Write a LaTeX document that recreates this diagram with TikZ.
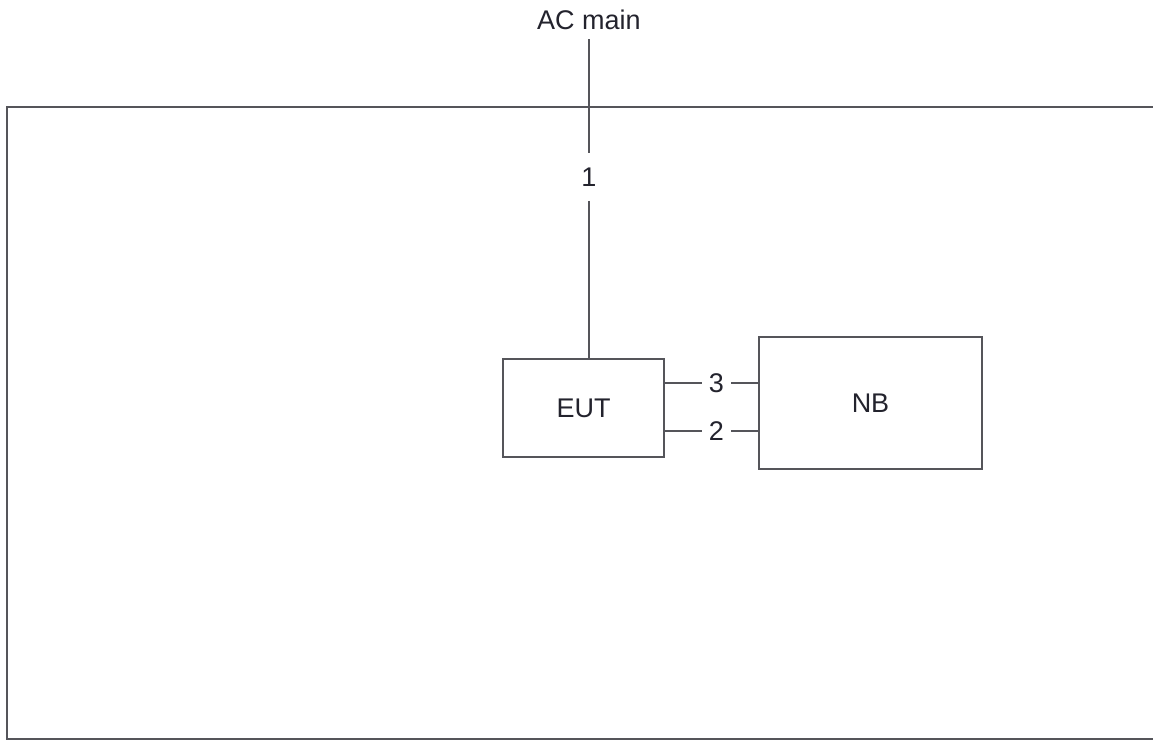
\documentclass[tikz,border=0pt]{standalone}
\usepackage{fontspec}
\setmainfont{Liberation Sans}
\usetikzlibrary{positioning}
\definecolor{LineGray}{RGB}{85,85,90}
\definecolor{TextGray}{RGB}{35,35,45}

\begin{document}
\begin{tikzpicture}[x=0.5pt, y=-0.5pt,
        font=\fontsize{13.5}{16}\selectfont,
        block/.style={draw=LineGray, line width=0.6pt, text=TextGray, inner sep=0pt},
        wire/.style={draw=LineGray, line width=0.6pt},
        tag/.style={text=TextGray, inner sep=0pt}]
        \useasboundingbox (0,0) rectangle (1153,740);
        \clip (0,0) rectangle (1153,740);
        % test area frame
        \draw[wire] (7,107) rectangle (1180,739);
        \node[block, minimum width=80.5pt, minimum height=49pt] (EUT) at (583.5,408) {EUT};
        \node[block, minimum width=111.5pt, minimum height=66pt] (NB) at (870.5,403) {NB};
        \node[tag, inner sep=4.5pt] (AC) at (589,20) {AC main};
        \node[tag, minimum height=23.5pt] (L1) at (589,177) {1};
        \node[tag, minimum width=14.5pt] (L3) at (716.5,383) {3};
        \node[tag, minimum width=14.5pt] (L2) at (716.5,431) {2};
        \draw[wire] (AC) -- (L1) -- (L1 |- EUT.north);
        \draw[wire] (EUT.east |- L3) -- (L3) -- (NB.west |- L3);
        \draw[wire] (EUT.east |- L2) -- (L2) -- (NB.west |- L2);
      \end{tikzpicture}
\end{document}
